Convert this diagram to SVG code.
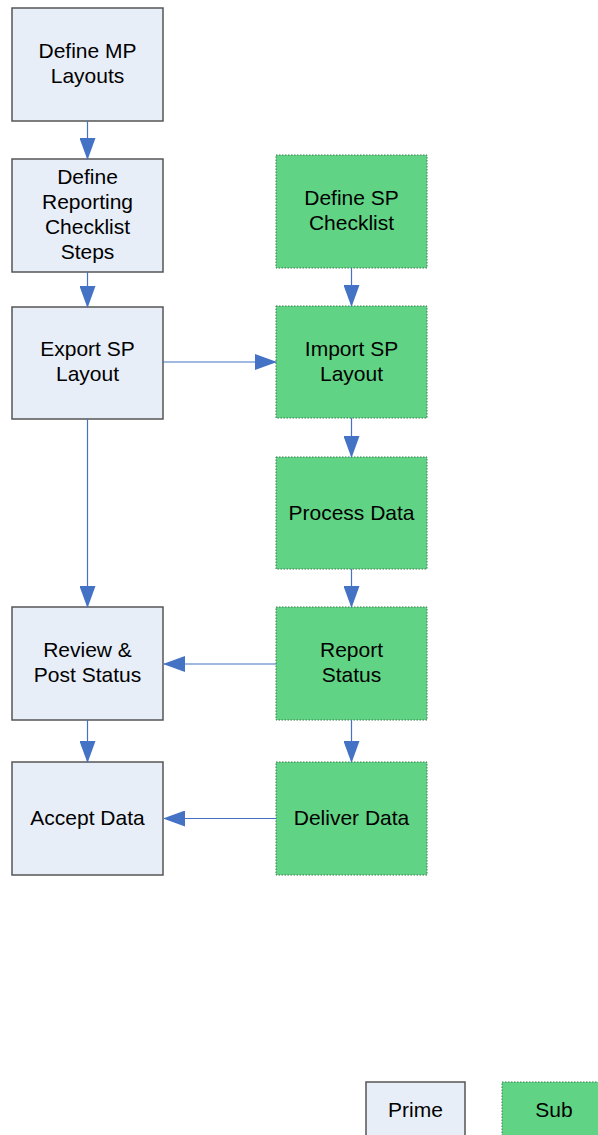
<svg xmlns="http://www.w3.org/2000/svg" width="598" height="1135" viewBox="0 0 598 1135">
<style>
.p{fill:#E8EEF8;stroke:#555;stroke-width:1.5}
.s{fill:#60D484;stroke:#3B7A4F;stroke-width:1;stroke-dasharray:1.5 1.5}
.t{font-family:"Liberation Sans",Arial,sans-serif;font-size:21px;fill:#000;text-anchor:middle}
.c{stroke:#4472C4;stroke-width:1.2;fill:none}
</style>
<defs>
<marker id="a" markerUnits="userSpaceOnUse" markerWidth="22" markerHeight="16" refX="21" refY="8" orient="auto">
<path d="M0,0 L22,8 L0,16 Z" fill="#4472C4"/>
</marker>
</defs>
<g id="n1"><rect class="p" x="12" y="8" width="151" height="113"/><text class="t" x="87.5" y="58">Define MP</text><text class="t" x="87.5" y="83">Layouts</text></g>
<g id="n2"><rect class="p" x="12" y="159" width="151" height="113"/><text class="t" x="87.5" y="184">Define</text><text class="t" x="87.5" y="209">Reporting</text><text class="t" x="87.5" y="234">Checklist</text><text class="t" x="87.5" y="259">Steps</text></g>
<g id="n3"><rect class="p" x="12" y="307" width="151" height="112"/><text class="t" x="87.5" y="356">Export SP</text><text class="t" x="87.5" y="381">Layout</text></g>
<g id="n4"><rect class="p" x="12" y="607" width="151" height="113"/><text class="t" x="87.5" y="657">Review &amp;</text><text class="t" x="87.5" y="682">Post Status</text></g>
<g id="n5"><rect class="p" x="12" y="762" width="151" height="113"/><text class="t" x="87.5" y="825">Accept Data</text></g>
<g id="n6"><rect class="s" x="276" y="155" width="151" height="113"/><text class="t" x="351.5" y="205">Define SP</text><text class="t" x="351.5" y="230">Checklist</text></g>
<g id="n7"><rect class="s" x="276" y="306" width="151" height="112"/><text class="t" x="351.5" y="356">Import SP</text><text class="t" x="351.5" y="381">Layout</text></g>
<g id="n8"><rect class="s" x="276" y="457" width="151" height="112"/><text class="t" x="351.5" y="520">Process Data</text></g>
<g id="n9"><rect class="s" x="276" y="607" width="151" height="113"/><text class="t" x="351.5" y="657">Report</text><text class="t" x="351.5" y="682">Status</text></g>
<g id="n10"><rect class="s" x="276" y="762" width="151" height="113"/><text class="t" x="351.5" y="825">Deliver Data</text></g>
<g id="legend-prime"><rect class="p" x="366" y="1082" width="99" height="60"/><text class="t" x="415.5" y="1117">Prime</text></g>
<g id="legend-sub"><rect class="s" x="502" y="1082" width="99" height="60"/><text class="t" x="554" y="1117">Sub</text></g>
<g id="connectors">
<line class="c" x1="87.5" y1="121" x2="87.5" y2="159" marker-end="url(#a)"/>
<line class="c" x1="87.5" y1="272" x2="87.5" y2="307" marker-end="url(#a)"/>
<line class="c" x1="87.5" y1="419" x2="87.5" y2="607" marker-end="url(#a)"/>
<line class="c" x1="87.5" y1="720" x2="87.5" y2="762" marker-end="url(#a)"/>
<line class="c" x1="163" y1="362" x2="276" y2="362" marker-end="url(#a)"/>
<line class="c" x1="351.5" y1="268" x2="351.5" y2="306" marker-end="url(#a)"/>
<line class="c" x1="351.5" y1="418" x2="351.5" y2="457" marker-end="url(#a)"/>
<line class="c" x1="351.5" y1="569" x2="351.5" y2="607" marker-end="url(#a)"/>
<line class="c" x1="351.5" y1="720" x2="351.5" y2="762" marker-end="url(#a)"/>
<line class="c" x1="276" y1="664" x2="164" y2="664" marker-end="url(#a)"/>
<line class="c" x1="276" y1="818.5" x2="164" y2="818.5" marker-end="url(#a)"/>
</g>
</svg>
